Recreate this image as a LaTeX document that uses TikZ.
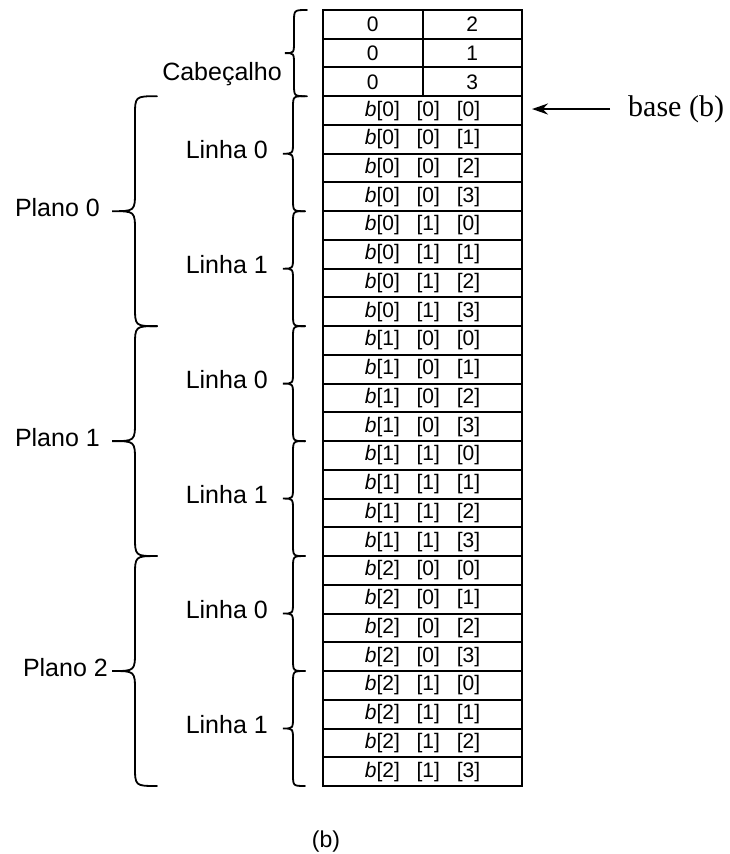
\documentclass[tikz,border=0pt]{standalone}
\usepackage{fontspec}
\setmainfont{Liberation Sans}
\newfontfamily\serifa{Liberation Serif}
\usetikzlibrary{arrows.meta,positioning}

% chave: ponta dos bracos, dorso, bico, topo, base, curva
\newcommand{\chave}[6]{%
  \draw[chaveta] (#1,#4) .. controls (#2,#4) .. (#2,{#4+#6})
    -- (#2,{(#4+#5)/2-#6}) .. controls (#2,{(#4+#5)/2}) .. (#3,{(#4+#5)/2})
    .. controls (#2,{(#4+#5)/2}) .. (#2,{(#4+#5)/2+#6})
    -- (#2,{#5-#6}) .. controls (#2,#5) .. (#1,#5);}
\def\altura{28.74}

\tikzset{
  linha/.style={draw, line width=2pt, minimum width=199pt, minimum height=\altura pt,
    inner sep=0pt, font=\fontsize{21}{24}\selectfont},
  meia/.style={linha, minimum width=99.5pt},
  rotulo/.style={font=\fontsize{25}{30}\selectfont, inner sep=0pt, anchor=mid east},
  chaveta/.style={line width=1.8pt, line cap=round}
}

\begin{document}
\begin{tikzpicture}[x=1pt, y=-1pt]
  \useasboundingbox (0,0) rectangle (730,854);
  % cabecalho
  \foreach \v [count=\r from 0] in {2,1,3} {
    \node[meia] (h\r a) at (372.75, {10+(\r+0.5)*\altura}) {0};
    \node[meia] (h\r b) at (472.25, {10+(\r+0.5)*\altura}) {\v};
  }
  % elementos
  \foreach \i in {0,1,2}
    \foreach \j in {0,1}
      \foreach \k in {0,...,3} {
        \pgfmathtruncatemacro\r{3+8*\i+4*\j+\k}
        \node[linha] (r\r) at (422.5, {10+(\r+0.5)*\altura})
          {\textit{b}[\i]\hspace{.8em}[\j]\hspace{.8em}[\k]};
      }
  % chaves
  \chave{307}{294}{285}{10}{10+3*\altura}{12}
  \node[rotulo] (cab) at (282, 78) {Cabeçalho};
  \foreach \i in {0,1,2} {
    \pgfmathsetmacro\topo{10+(3+8*\i)*\altura}
    \chave{157}{135}{112}{\topo}{\topo+8*\altura}{20}
    \foreach \j in {0,1} {
      \pgfmathsetmacro\sub{\topo+4*\j*\altura}
      \chave{305}{293}{283}{\sub}{\sub+4*\altura}{12}
      \node[rotulo] (l\i\j) at (268, {\sub+2*\altura+2.5}) {Linha \j};
    }
  }
  \node[rotulo] (p0) at (100, {10+7*\altura+2.5}) {Plano 0};
  \node[rotulo] (p1) at (100, {10+15*\altura+2.5}) {Plano 1};
  \node[rotulo] (p2) at (108, {10+23*\altura+2.5}) {Plano 2};
  % ponteiro
  \node[font=\serifa\fontsize{30}{36}\selectfont, anchor=mid west, inner sep=0pt]
    (base) at (628, {10+3.5*\altura+3}) {base (b)};
  \draw[-{Stealth[length=16pt,width=11pt]}, line width=2pt,
    shorten <=18pt, shorten >=9pt] (base.west) -- (base.west -| r3.east);
  \node[font=\fontsize{23}{28}\selectfont] (legenda) at (326, 842) {(b)};
\end{tikzpicture}
\end{document}
